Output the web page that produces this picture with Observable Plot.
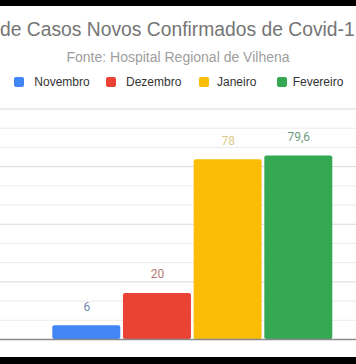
<!DOCTYPE html>
<html>
<head>
<meta charset="utf-8">
<script src="https://cdn.jsdelivr.net/npm/d3@7"></script>
<script src="https://cdn.jsdelivr.net/npm/@observablehq/plot@0.6"></script>
<style>
  html, body { margin: 0; padding: 0; background: #fff; }
  #wrap { position: relative; width: 356px; height: 364px; overflow: hidden; font-family: "Liberation Sans", Arial, sans-serif; }
  #wrap svg { position: absolute; left: 0; top: 0; }
  .bar-black { position: absolute; left: 0; width: 356px; background: #000; }
  #title { position: absolute; left: 0px; width: 356px; top: 18px; font-size: 19.3px; line-height: 24px; color: #757575; white-space: nowrap; }
  #subtitle { position: absolute; left: 0; width: 356px; top: 47px; text-align: center; font-size: 14px; line-height: 20px; color: #9e9e9e; white-space: nowrap; }
  .lg-sq { position: absolute; width: 10px; height: 10px; border-radius: 2px; top: 77px; }
  .lg-tx { position: absolute; top: 74px; font-size: 12px; line-height: 16px; color: #333; white-space: nowrap; }
</style>
</head>
<body>
<div id="wrap"></div>
<script>
// Data
const months = ["Novembro", "Dezembro", "Janeiro", "Fevereiro"];
const values = [6, 20, 78, 79.6];
const labels = ["6", "20", "78", "79,6"];
const colors = ["#4285F4", "#EA4335", "#FBBC04", "#34A853"];
const labelColors = ["#7189ab", "#b37a70", "#ddcb8c", "#6d9b7c"];
const majorTicks = [25, 50, 75, 100];
const minorTicks = [8.33, 16.67, 33.33, 41.67, 58.33, 66.67, 83.33, 91.67];
const titleText = "de Casos Novos Confirmados de Covid-1";
const subtitleText = "Fonte: Hospital Regional de Vilhena";

const data = months.map((m, i) => ({month: m, value: values[i], label: labels[i], color: colors[i], labelColor: labelColors[i]}));

const chart = Plot.plot({
  width: 356,
  height: 364,
  marginLeft: 0,
  marginRight: 0,
  marginTop: 108.5,
  marginBottom: 25,
  style: {background: "transparent", fontFamily: "Roboto, Arial, sans-serif"},
  x: {type: "band", axis: null, domain: months, range: [52.3, 332.3], paddingInner: 0.038, paddingOuter: 0, round: false},
  y: {axis: null, domain: [0, 100]},
  color: {type: "identity"},
  marks: [
    Plot.ruleY(minorTicks, {stroke: "#ebebeb", strokeWidth: 1}),
    Plot.ruleY(majorTicks, {stroke: "#d9d9d9", strokeWidth: 1}),
    Plot.barY(data, {x: "month", y: "value", fill: "color", rx: 2}),
    Plot.ruleY([0], {stroke: "#8a8a8a", strokeWidth: 1.5}),
    Plot.text(data, {x: "month", y: "value", text: "label", fill: "labelColor", dy: -19, fontSize: 12, lineAnchor: "middle"})
  ]
});

const wrap = document.getElementById("wrap");
wrap.appendChild(chart);

function add(tag, cls, text, style) {
  const el = document.createElement(tag);
  if (cls) el.className = cls;
  if (text != null) el.textContent = text;
  Object.assign(el.style, style || {});
  wrap.appendChild(el);
  return el;
}
add("div", "bar-black", null, {top: "0px", height: "6px"});
add("div", "bar-black", null, {top: "357px", height: "7px"});
add("div", null, titleText, {}).id = "title";
add("div", null, subtitleText, {}).id = "subtitle";

const sqX = [14, 106, 198.7, 276.7];
const txX = [34.3, 126, 217, 292.7];
months.forEach((m, i) => {
  add("div", "lg-sq", null, {left: sqX[i] + "px", background: colors[i]});
  add("div", "lg-tx", m, {left: txX[i] + "px"});
});
</script>
</body>
</html>
